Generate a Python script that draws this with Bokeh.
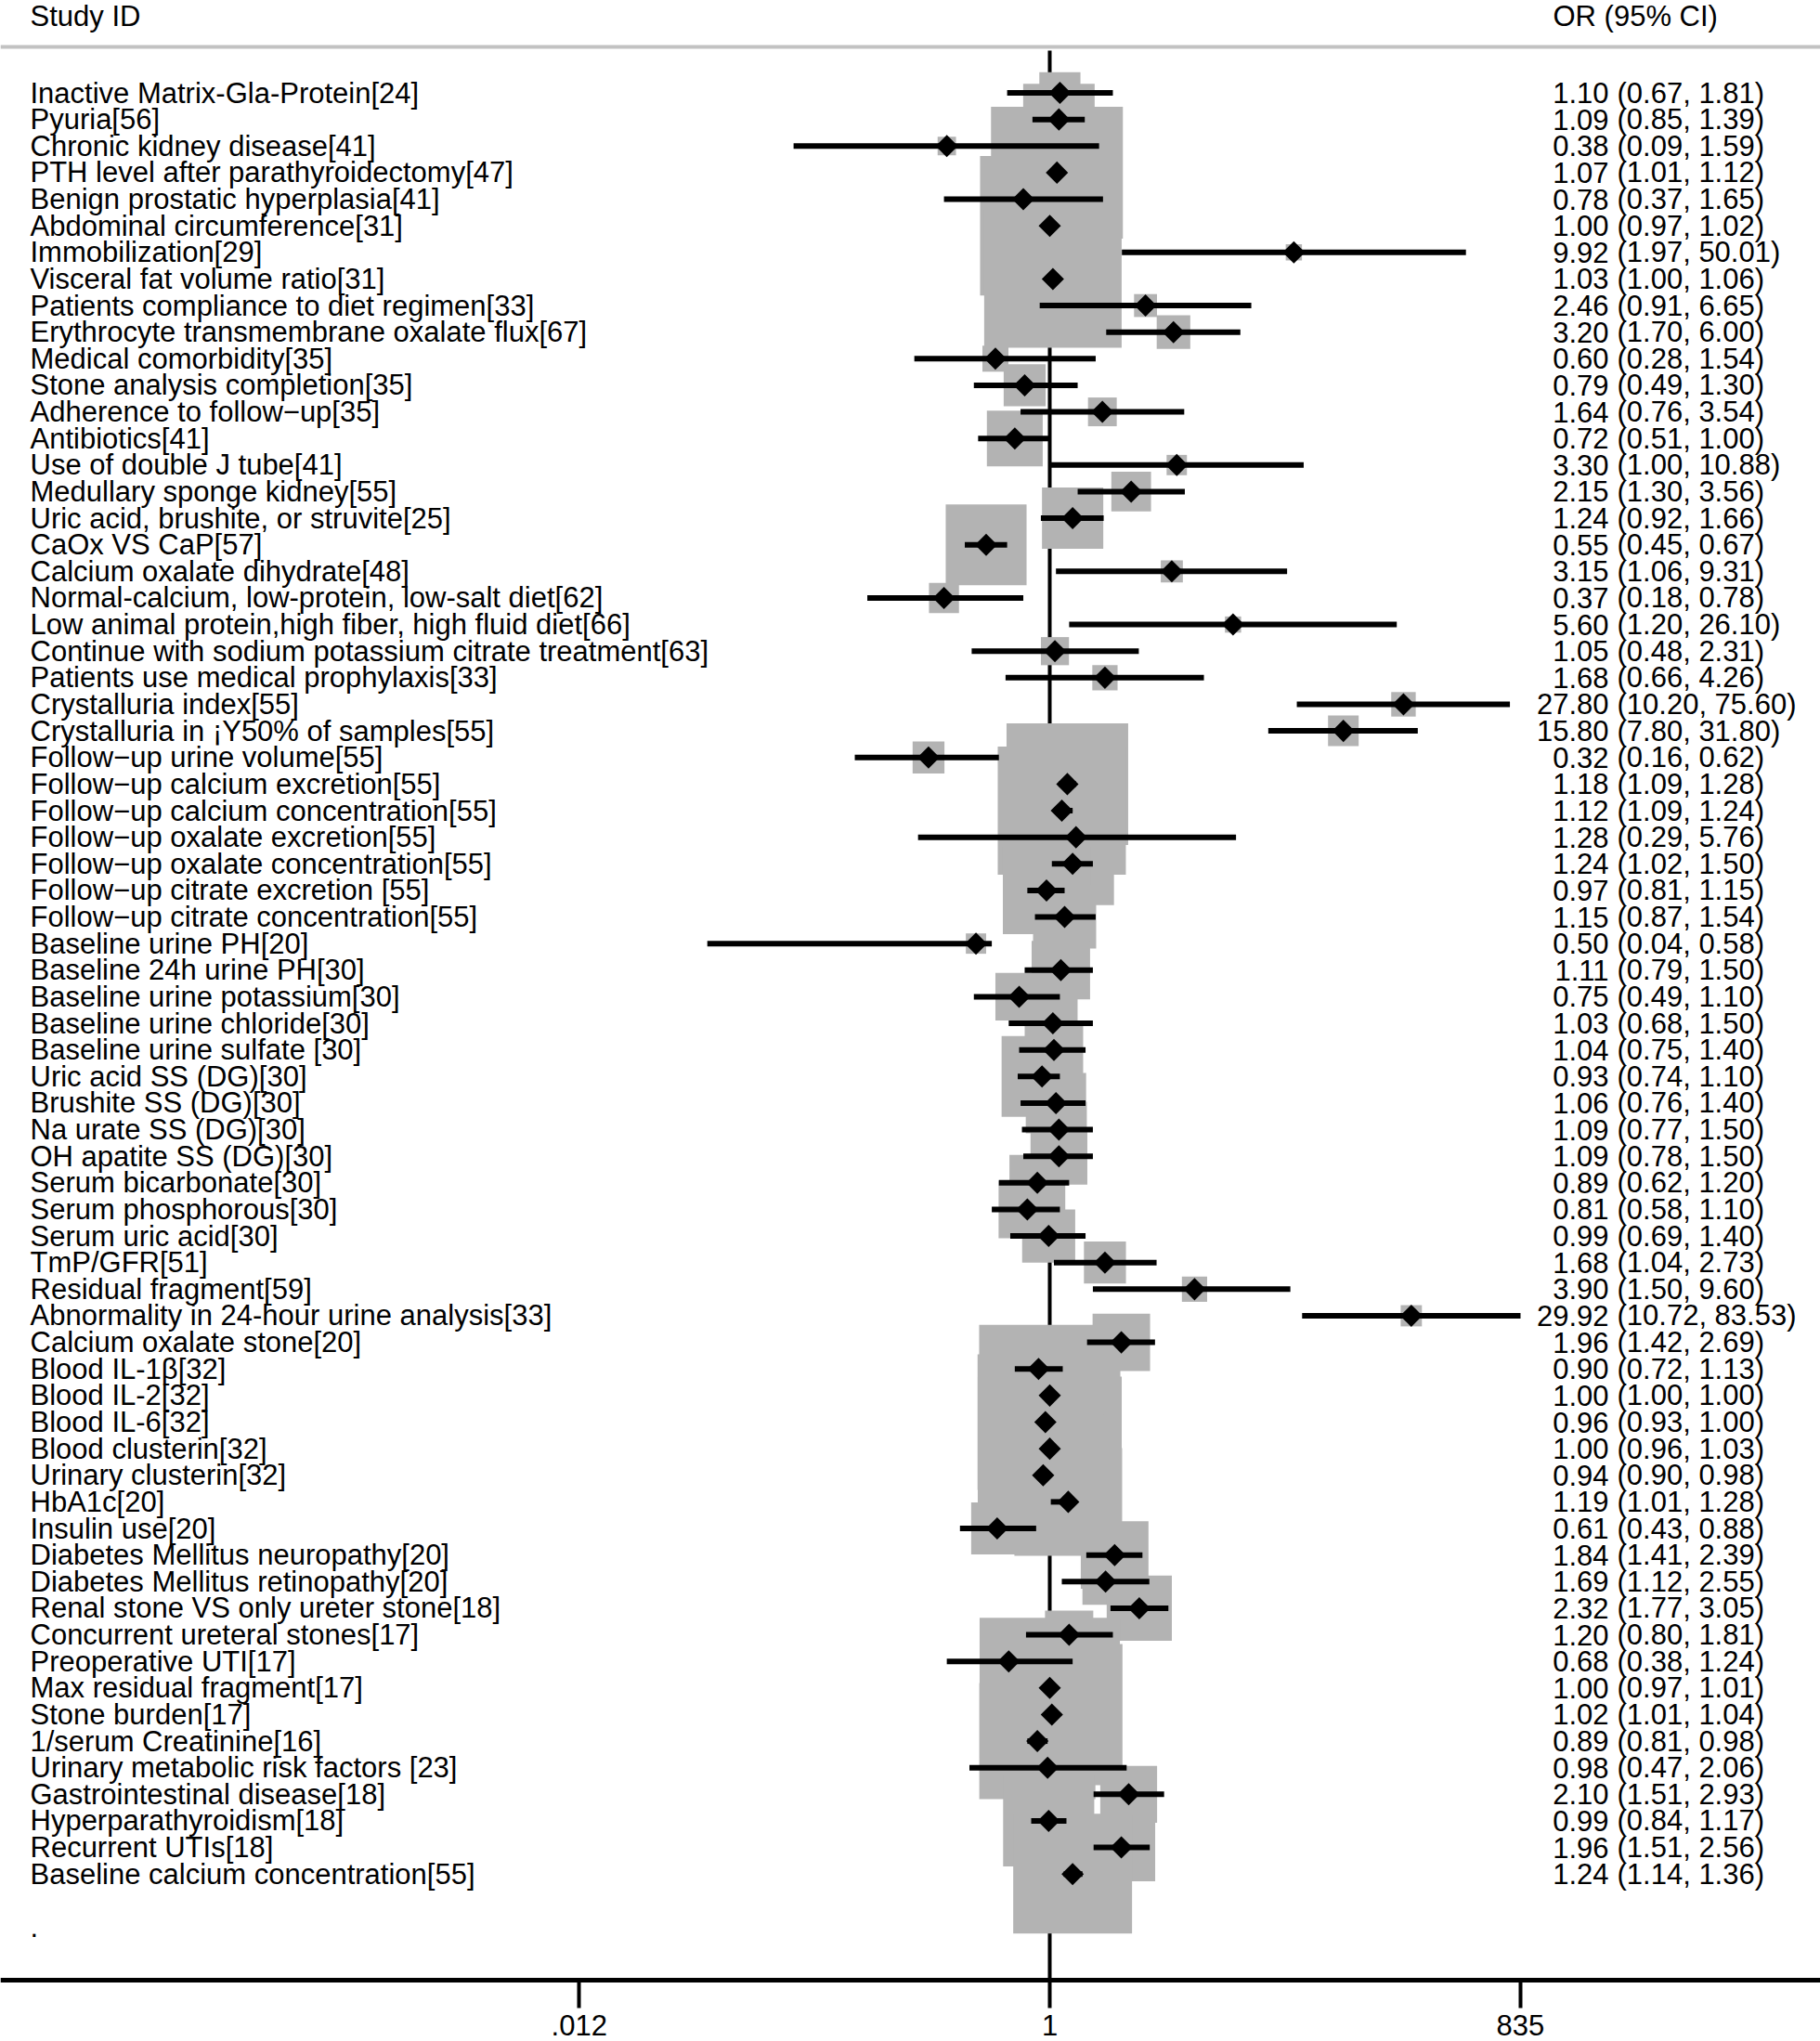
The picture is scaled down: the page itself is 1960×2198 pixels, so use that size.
import numpy as np
from bokeh.plotting import figure
from bokeh.models import Range1d, FixedTicker, Span, ColumnDataSource
from bokeh.core.properties import value
from bokeh.embed import file_html
from bokeh.resources import INLINE

studies = [
    "Inactive Matrix-Gla-Protein[24]",
    "Pyuria[56]",
    "Chronic kidney disease[41]",
    "PTH level after parathyroidectomy[47]",
    "Benign prostatic hyperplasia[41]",
    "Abdominal circumference[31]",
    "Immobilization[29]",
    "Visceral fat volume ratio[31]",
    "Patients compliance to diet regimen[33]",
    "Erythrocyte transmembrane oxalate flux[67]",
    "Medical comorbidity[35]",
    "Stone analysis completion[35]",
    "Adherence to follow\u2212up[35]",
    "Antibiotics[41]",
    "Use of double J tube[41]",
    "Medullary sponge kidney[55]",
    "Uric acid, brushite, or struvite[25]",
    "CaOx VS CaP[57]",
    "Calcium oxalate dihydrate[48]",
    "Normal-calcium, low-protein, low-salt diet[62]",
    "Low animal protein,high fiber, high fluid diet[66]",
    "Continue with sodium potassium citrate treatment[63]",
    "Patients use medical prophylaxis[33]",
    "Crystalluria index[55]",
    "Crystalluria in \u00a1Y50% of samples[55]",
    "Follow\u2212up urine volume[55]",
    "Follow\u2212up calcium excretion[55]",
    "Follow\u2212up calcium concentration[55]",
    "Follow\u2212up oxalate excretion[55]",
    "Follow\u2212up oxalate concentration[55]",
    "Follow\u2212up citrate excretion [55]",
    "Follow\u2212up citrate concentration[55]",
    "Baseline urine PH[20]",
    "Baseline 24h urine PH[30]",
    "Baseline urine potassium[30]",
    "Baseline urine chloride[30]",
    "Baseline urine sulfate [30]",
    "Uric acid SS (DG)[30]",
    "Brushite SS (DG)[30]",
    "Na urate SS (DG)[30]",
    "OH apatite SS (DG)[30]",
    "Serum bicarbonate[30]",
    "Serum phosphorous[30]",
    "Serum uric acid[30]",
    "TmP/GFR[51]",
    "Residual fragment[59]",
    "Abnormality in 24-hour urine analysis[33]",
    "Calcium oxalate stone[20]",
    "Blood IL-1\u03b2[32]",
    "Blood IL-2[32]",
    "Blood IL-6[32]",
    "Blood clusterin[32]",
    "Urinary clusterin[32]",
    "HbA1c[20]",
    "Insulin use[20]",
    "Diabetes Mellitus neuropathy[20]",
    "Diabetes Mellitus retinopathy[20]",
    "Renal stone VS only ureter stone[18]",
    "Concurrent ureteral stones[17]",
    "Preoperative UTI[17]",
    "Max residual fragment[17]",
    "Stone burden[17]",
    "1/serum Creatinine[16]",
    "Urinary metabolic risk factors [23]",
    "Gastrointestinal disease[18]",
    "Hyperparathyroidism[18]",
    "Recurrent UTIs[18]",
    "Baseline calcium concentration[55]",
]

odds_ratio = [1.10, 1.09, 0.38, 1.07, 0.78, 1.00, 9.92, 1.03, 2.46, 3.20,
              0.60, 0.79, 1.64, 0.72, 3.30, 2.15, 1.24, 0.55, 3.15, 0.37,
              5.60, 1.05, 1.68, 27.80, 15.80, 0.32, 1.18, 1.12, 1.28, 1.24,
              0.97, 1.15, 0.50, 1.11, 0.75, 1.03, 1.04, 0.93, 1.06, 1.09,
              1.09, 0.89, 0.81, 0.99, 1.68, 3.90, 29.92, 1.96, 0.90, 1.00,
              0.96, 1.00, 0.94, 1.19, 0.61, 1.84, 1.69, 2.32, 1.20, 0.68,
              1.00, 1.02, 0.89, 0.98, 2.10, 0.99, 1.96, 1.24]

ci_lower = [0.67, 0.85, 0.09, 1.01, 0.37, 0.97, 1.97, 1.00, 0.91, 1.70,
            0.28, 0.49, 0.76, 0.51, 1.00, 1.30, 0.92, 0.45, 1.06, 0.18,
            1.20, 0.48, 0.66, 10.20, 7.80, 0.16, 1.09, 1.09, 0.29, 1.02,
            0.81, 0.87, 0.04, 0.79, 0.49, 0.68, 0.75, 0.74, 0.76, 0.77,
            0.78, 0.62, 0.58, 0.69, 1.04, 1.50, 10.72, 1.42, 0.72, 1.00,
            0.93, 0.96, 0.90, 1.01, 0.43, 1.41, 1.12, 1.77, 0.80, 0.38,
            0.97, 1.01, 0.81, 0.47, 1.51, 0.84, 1.51, 1.14]

ci_upper = [1.81, 1.39, 1.59, 1.12, 1.65, 1.02, 50.01, 1.06, 6.65, 6.00,
            1.54, 1.30, 3.54, 1.00, 10.88, 3.56, 1.66, 0.67, 9.31, 0.78,
            26.10, 2.31, 4.26, 75.60, 31.80, 0.62, 1.28, 1.24, 5.76, 1.50,
            1.15, 1.54, 0.58, 1.50, 1.10, 1.50, 1.40, 1.10, 1.40, 1.50,
            1.50, 1.20, 1.10, 1.40, 2.73, 9.60, 83.53, 2.69, 1.13, 1.00,
            1.00, 1.03, 0.98, 1.28, 0.88, 2.39, 2.55, 3.05, 1.81, 1.24,
            1.01, 1.04, 0.98, 2.06, 2.93, 1.17, 2.56, 1.36]

weights = [0.45, 1.36, 0.09, 4.63, 0.21, 5.17, 0.07, 5.03, 0.14, 0.30,
           0.18, 0.47, 0.22, 0.83, 0.11, 0.42, 1.00, 1.74, 0.13, 0.24,
           0.07, 0.21, 0.17, 0.16, 0.25, 0.27, 3.94, 4.37, 0.21, 1.82,
           2.03, 1.06, 0.11, 0.91, 0.60, 0.65, 0.91, 1.74, 0.97, 0.83,
           0.86, 0.83, 0.88, 0.75, 0.47, 0.17, 0.12, 0.88, 1.13, 5.31,
           4.90, 5.52, 3.88, 3.09, 0.72, 1.22, 0.57, 1.13, 0.62, 0.37,
           5.24, 5.31, 3.59, 0.37, 0.86, 2.21, 1.22, 3.76]

tick_values = [0.012, 1, 83.5]
tick_labels = [".012", "1", "835"]

header_left = "Study ID"
header_right = "OR (95% CI)"
footer_label = "."

FONT = value("Liberation Sans")
FS = "31px"

n = len(studies)
rows = list(range(n))
est_txt = [f"{v:.2f}" for v in odds_ratio]
ci_txt = [f"({lo:.2f}, {hi:.2f})" for lo, hi in zip(ci_lower, ci_upper)]
box_size = [66.0 * np.sqrt(w) for w in weights]

src = ColumnDataSource(dict(y=rows, est=odds_ratio, lo=ci_lower, hi=ci_upper,
                            study=studies, est_txt=est_txt, ci_txt=ci_txt,
                            size=box_size))

p = figure(width=1960, height=2198, output_backend="svg", toolbar_location=None,
           x_axis_type="log", x_axis_location="below", y_axis_location=None,
           x_range=Range1d(10 ** -4.2835, 10 ** 3.1463),
           y_range=Range1d(73.297, -3.4754),
           min_border=0, min_border_left=0, min_border_right=0,
           min_border_top=0, min_border_bottom=0)
p.outline_line_color = None
p.grid.visible = False
p.background_fill_color = "white"
p.border_fill_color = "white"

# x-axis
ax = p.xaxis[0]
ax.fixed_location = 70.99
ax.ticker = FixedTicker(ticks=tick_values, minor_ticks=[])
ax.major_label_overrides = {t: l for t, l in zip(tick_values, tick_labels)}
ax.axis_line_width = 5
ax.axis_line_color = "black"
ax.major_tick_line_width = 4
ax.major_tick_line_color = "black"
ax.major_tick_out = 30
ax.major_tick_in = 0
ax.minor_tick_line_color = None
ax.major_label_standoff = 8
ax.major_label_text_font = "Liberation Sans"
ax.major_label_text_font_size = FS
ax.major_label_text_color = "black"

# header separator
p.add_layout(Span(location=-1.73, dimension="width", line_color="#c2c2c2", line_width=4))

# null line at OR = 1
p.segment(x0=[1], y0=[-1.59], x1=[1], y1=[70.99], line_color="black", line_width=4)

# weight boxes
p.scatter(x="est", y="y", size="size", marker="square", source=src,
          fill_color="#b3b3b3", line_color=None)

# confidence intervals
p.segment(x0="lo", y0="y", x1="hi", y1="y", source=src, line_color="black", line_width=6)

# point estimates
p.scatter(x="est", y="y", size=17, marker="square", angle=np.pi / 4, source=src,
          fill_color="black", line_color=None)

# text columns
x_lab = 10 ** -4.1622
x_est = 10 ** 2.2820
x_hdr = 10 ** 2.0546
p.text(x=x_lab, y="y", text="study", source=src, text_font=FONT, text_font_size=FS,
       text_align="left", text_baseline="middle", text_color="black")
p.text(x=x_est, y="y", text="est_txt", source=src, text_font=FONT, text_font_size=FS,
       text_align="right", text_baseline="middle", text_color="black")
p.text(x=x_est, y="y", text="ci_txt", source=src, text_font=FONT, text_font_size=FS,
       x_offset=9, text_align="left", text_baseline="middle", text_color="black")
p.text(x=[x_lab], y=[-2.88], text=[header_left], text_font=FONT, text_font_size=FS,
       text_align="left", text_baseline="middle", text_color="black")
p.text(x=[x_hdr], y=[-2.88], text=[header_right], text_font=FONT, text_font_size=FS,
       text_align="left", text_baseline="middle", text_color="black")
p.text(x=[x_lab], y=[n + 1], text=[footer_label], text_font=FONT, text_font_size=FS,
       text_align="left", text_baseline="middle", text_color="black")

open("out.html", "w").write(file_html(p, INLINE))
